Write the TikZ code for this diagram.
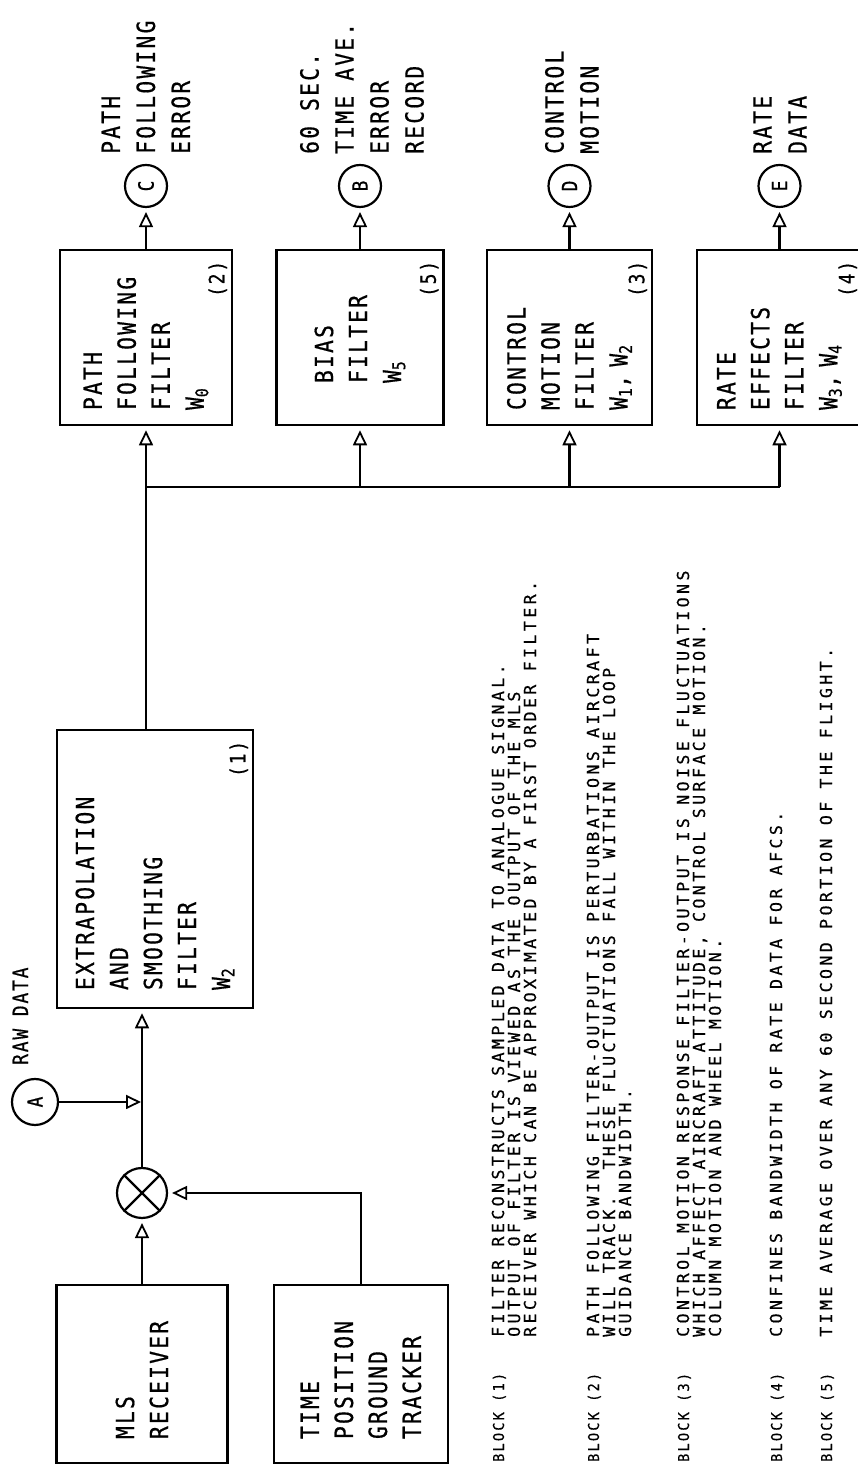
\documentclass[tikz,border=0pt]{standalone}
\usepackage{fontspec}
\newfontfamily\lbl[FakeStretch=0.85,LetterSpace=9,FakeBold=0.6]{DejaVu Sans Mono}
\newfontfamily\nte[LetterSpace=21,FakeBold=0.6]{DejaVu Sans Mono}
\newfontfamily\blk[FakeStretch=0.9,LetterSpace=15,FakeBold=0.3]{DejaVu Sans Mono}
\usetikzlibrary{arrows.meta}
\begin{document}
\begin{tikzpicture}[x=1pt,y=1pt,
  box/.style={draw, line width=2.6pt, inner ysep=0pt, align=left,
    font=\lbl\fontsize{25}{34}\selectfont},
  lab/.style={inner sep=0pt, align=left, font=\lbl\fontsize{25}{35}\selectfont},
  num/.style={inner sep=0pt, anchor=base east, font=\lbl\fontsize{21}{21}\selectfont},
  circ/.style={draw, circle, line width=2.2pt, inner sep=0pt, font=\lbl\fontsize{21}{21}\selectfont},
  note/.style={inner sep=0pt, anchor=base west, font=\nte\fontsize{16.5}{16.5}\selectfont},
  blk/.style={inner sep=0pt, anchor=base west, font=\blk\fontsize{15}{15}\selectfont},
  conn/.style={line width=2.6pt},
  arr/.style={line width=2.6pt, -{Triangle[open,length=15pt,width=14pt,line width=1.8pt]}, shorten >=4pt}]
\useasboundingbox (0,0) rectangle (857,1472);
\begin{scope}[rotate=90, transform shape]
% input blocks
\node[box, minimum width=178, minimum height=171, text width=130, inner xsep=24pt] (mls) at (98,-142) {MLS\\RECEIVER};
\node[box, minimum width=178, minimum height=174, text width=130, inner xsep=24pt] (trk) at (98,-361) {TIME\\POSITION\\GROUND\\TRACKER};
% multiplier
\node[circ, minimum size=50] (mul) at (279,-142) {};
\draw[line width=2.2pt] (mul.45) -- (mul.225) (mul.135) -- (mul.315);
% raw data point
\node[circ, minimum size=46] (A) at (370,-35) {A};
\node[inner sep=0pt, anchor=base west, font=\lbl\fontsize{21}{21}\selectfont] (raw) at (407,-28) {RAW DATA};
% extrapolation block
\node[box, minimum width=278, minimum height=196, text width=242, inner xsep=18pt] (ext) at (603,-155) {EXTRAPOLATION\\AND\\SMOOTHING\\FILTER\\W\textsubscript{2}};
\node[num] (n1) at ([xshift=-12pt,yshift=9pt]ext.south east) {(1)};
% filters
\node[box, minimum width=175, minimum height=172, text width=145, inner xsep=15pt] (pf) at (1134.5,-146) {PATH\\FOLLOWING\\FILTER\\W\textsubscript{0}};
\node[num] (n2) at ([xshift=-12pt,yshift=9pt]pf.south east) {(2)};
\node[box, minimum width=175, minimum height=167, text width=91, inner xsep=42pt] (bias) at (1134.5,-360) {BIAS\\FILTER\\W\textsubscript{5}};
\node[num] (n5) at ([xshift=-12pt,yshift=9pt]bias.south east) {(5)};
\node[box, minimum width=175, minimum height=165, text width=145, inner xsep=15pt] (ctl) at (1134.5,-569.5) {CONTROL\\MOTION\\FILTER\\W\textsubscript{1}, W\textsubscript{2}};
\node[num] (n3) at ([xshift=-12pt,yshift=9pt]ctl.south east) {(3)};
\node[box, minimum width=175, minimum height=165, text width=145, inner xsep=15pt] (rate) at (1134.5,-779.5) {RATE\\EFFECTS\\FILTER\\W\textsubscript{3}, W\textsubscript{4}};
\node[num] (n4) at ([xshift=-12pt,yshift=9pt]rate.south east) {(4)};
% outputs
\node[circ, minimum size=42] (C) at (1286,-146) {C};
\node[circ, minimum size=42] (B) at (1286,-360) {B};
\node[circ, minimum size=42] (D) at (1286,-569.5) {D};
\node[circ, minimum size=42] (E) at (1286,-779.5) {E};
\node[lab, anchor=west] (Ct) at (1318,-146) {PATH\\FOLLOWING\\ERROR};
\node[lab, anchor=west] (Bt) at (1318,-362) {60 SEC.\\TIME AVE.\\ERROR\\RECORD};
\node[lab, anchor=west] (Dt) at (1318,-572) {CONTROL\\MOTION};
\node[lab, anchor=west] (Et) at (1318,-780) {RATE\\DATA};
% connectors
\draw[arr] (mls.east |- mul) -- (mul.west);
\draw[arr] (trk.east) -| (mul.south);
\draw[arr] (mul.east) -- (mul.east -| ext.west);
\draw[arr, shorten >=1pt] (A.south) -- (A |- mul);
\draw[arr] (ext.east |- pf.west) -- (pf.west);
\coordinate (j) at (985,-146);
\coordinate (jr) at (985,-779.5);
\draw[conn] (j) -- (jr);
\draw[arr] (j |- bias.west) -- (bias.west);
\draw[arr] (j |- ctl.west) -- (ctl.west);
\draw[arr] (jr) -- (rate.west);
\draw[arr] (pf.east) -- (C.west);
\draw[arr] (bias.east) -- (B.west);
\draw[arr] (ctl.east) -- (D.west);
\draw[arr] (rate.east) -- (E.west);
% notes
\node[blk] (b1) at (10,-504) {BLOCK (1)};
\node[note] (t11) at (135,-504) {FILTER RECONSTRUCTS SAMPLED DATA TO ANALOGUE SIGNAL.};
\node[note] (t12) at (135,-520) {OUTPUT OF FILTER IS VIEWED AS THE OUTPUT OF THE MLS};
\node[note] (t13) at (135,-536) {RECEIVER WHICH CAN BE APPROXIMATED BY A FIRST ORDER FILTER.};
\node[blk] (b2) at (10,-599) {BLOCK (2)};
\node[note] (t21) at (135,-599) {PATH FOLLOWING FILTER-OUTPUT IS PERTURBATIONS AIRCRAFT};
\node[note] (t22) at (135,-615) {WILL TRACK.\ \ THESE FLUCTUATIONS FALL WITHIN THE LOOP};
\node[note] (t23) at (135,-631) {GUIDANCE BANDWIDTH.};
\node[blk] (b3) at (10,-689) {BLOCK (3)};
\node[note] (t31) at (135,-689) {CONTROL MOTION RESPONSE FILTER-OUTPUT IS NOISE FLUCTUATIONS};
\node[note] (t32) at (135,-705) {WHICH AFFECT AIRCRAFT ATTITUDE, CONTROL SURFACE MOTION.};
\node[note] (t33) at (135,-721) {COLUMN MOTION AND WHEEL MOTION.};
\node[blk] (b4) at (10,-782) {BLOCK (4)};
\node[note] (t41) at (135,-782) {CONFINES BANDWIDTH OF RATE DATA FOR AFCS.};
\node[blk] (b5) at (10,-832) {BLOCK (5)};
\node[note] (t51) at (135,-832) {TIME AVERAGE OVER ANY 60 SECOND PORTION OF THE FLIGHT.};
\end{scope}
\end{tikzpicture}
\end{document}
